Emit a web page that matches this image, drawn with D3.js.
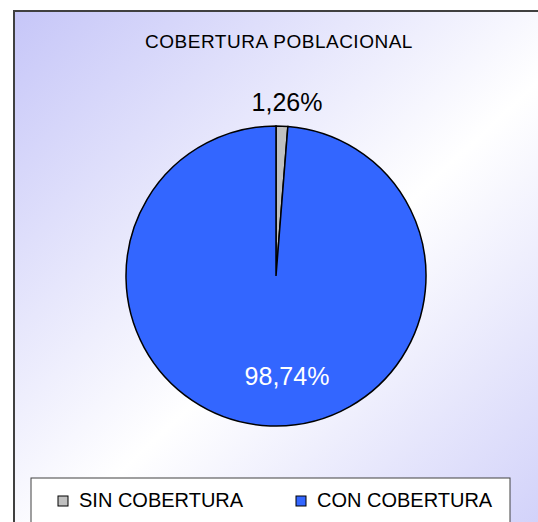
<!DOCTYPE html>
<html>
<head>
<meta charset="utf-8">
<title>Cobertura poblacional</title>
<script src="https://d3js.org/d3.v7.min.js"></script>
<style>
  body { margin: 0; background: #fff; overflow: hidden; }
  svg { display: block; }
  text { font-family: "Liberation Sans", Arial, sans-serif; }
</style>
</head>
<body>
<script>
// data
var categories = ["SIN COBERTURA", "CON COBERTURA"];
var values = [1.26, 98.74];
var labels = ["1,26%", "98,74%"];
var colors = ["#c0c0c0", "#3366ff"];

var width = 538, height = 522;
var svg = d3.select("body").append("svg")
    .attr("width", width)
    .attr("height", height);

// background gradient (lavender -> white -> lavender)
var defs = svg.append("defs");
var grad = defs.append("linearGradient")
    .attr("id", "bg")
    .attr("x1", "0%").attr("y1", "0%")
    .attr("x2", "100%").attr("y2", "100%");
grad.append("stop").attr("offset", "0%").attr("stop-color", "#c6c6f8");
grad.append("stop").attr("offset", "50%").attr("stop-color", "#ffffff");
grad.append("stop").attr("offset", "100%").attr("stop-color", "#c6c6f8");

svg.append("rect")
    .attr("x", 14).attr("y", 11)
    .attr("width", 600).attr("height", 560)
    .attr("fill", "url(#bg)")
    .attr("stroke", "#404040")
    .attr("stroke-width", 2);

// title
svg.append("text")
    .attr("x", 279).attr("y", 48)
    .attr("text-anchor", "middle")
    .style("font-size", "19px")
    .style("letter-spacing", "0.5px")
    .text("COBERTURA POBLACIONAL");

// pie
var cx = 276, cy = 276, r = 150;
var pie = d3.pie().sort(null).value(function(d) { return d; });
var arc = d3.arc().innerRadius(0).outerRadius(r);
var g = svg.append("g").attr("transform", "translate(" + cx + "," + cy + ")");

var arcs = pie(values);
g.selectAll("path")
    .data(arcs)
    .enter()
    .append("path")
    .attr("d", arc)
    .attr("fill", function(d, i) { return colors[i]; })
    .attr("stroke", "#000")
    .attr("stroke-width", 1.5);

// slice labels
var labelPos = [[11, -165], [11, 109]];
g.selectAll("text.lbl")
    .data(arcs)
    .enter()
    .append("text")
    .attr("class", "lbl")
    .attr("x", function(d, i) { return labelPos[i][0]; })
    .attr("y", function(d, i) { return labelPos[i][1]; })
    .attr("text-anchor", "middle")
    .attr("fill", function(d, i) { return i == 1 ? "#ffffff" : "#000000"; })
    .style("font-size", "25px")
    .text(function(d, i) { return labels[i]; });

// legend
svg.append("rect")
    .attr("x", 31).attr("y", 478)
    .attr("width", 479).attr("height", 60)
    .attr("fill", "#ffffff")
    .attr("stroke", "#404040")
    .attr("stroke-width", 1);

var legX = [58, 296];
var leg = svg.selectAll("g.leg")
    .data(categories)
    .enter()
    .append("g")
    .attr("class", "leg")
    .attr("transform", function(d, i) { return "translate(" + legX[i] + ",0)"; });
leg.append("rect")
    .attr("x", 0).attr("y", 496)
    .attr("width", 10).attr("height", 10)
    .attr("fill", function(d, i) { return colors[i]; })
    .attr("stroke", "#000")
    .attr("stroke-width", 1);
leg.append("text")
    .attr("x", 21).attr("y", 507)
    .style("font-size", "20px")
    .text(function(d) { return d; });
</script>
</body>
</html>
